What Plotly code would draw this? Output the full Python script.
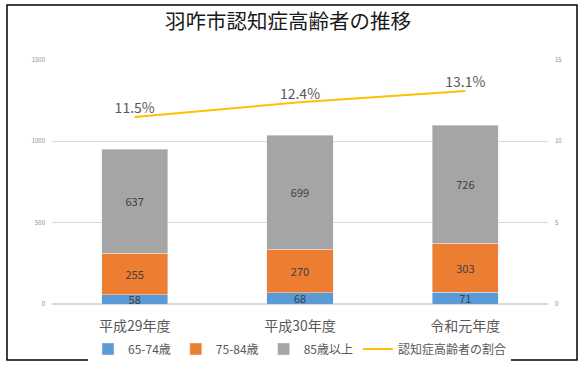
import plotly.graph_objects as go

categories = ["平成29年度", "平成30年度", "令和元年度"]
age_65_74 = [58, 68, 71]
age_75_84 = [255, 270, 303]
age_85_up = [637, 699, 726]
ratio = [11.5, 12.4, 13.1]
ratio_labels = ["11.5%", "12.4%", "13.1%"]

FONT = "Noto Sans CJK JP"
LABEL_COLOR = "#404040"

fig = go.Figure()
for name, vals, color in [
    ("65-74歳", age_65_74, "#5B9BD5"),
    ("75-84歳", age_75_84, "#ED7D31"),
    ("85歳以上", age_85_up, "#A5A5A5"),
]:
    fig.add_trace(go.Bar(
        x=categories, y=vals, name=name, marker_color=color,
        text=[str(v) for v in vals], textposition="inside",
        insidetextanchor="middle", constraintext="none", textangle=0,
        textfont=dict(size=11, color=LABEL_COLOR, family=FONT),
        cliponaxis=False,
    ))

fig.add_trace(go.Scatter(
    x=categories, y=ratio, name="認知症高齢者の割合", yaxis="y2",
    mode="lines+text", text=ratio_labels, textposition="top center",
    textfont=dict(size=14, color="#595959", family=FONT),
    line=dict(color="#FFC000", width=2),
    cliponaxis=False,
))

fig.update_layout(
    width=584, height=366,
    margin=dict(l=52, r=36, t=60, b=62, autoexpand=False),
    paper_bgcolor="white", plot_bgcolor="white",
    barmode="stack", bargap=0.6,
    font=dict(family=FONT, color="#595959"),
    title=dict(text="羽咋市認知症高齢者の推移", x=288 / 584, xanchor="center",
               xref="container", y=1 - 22 / 366, yanchor="middle", yref="container",
               automargin=False,
               font=dict(size=20.5, color="#1a1a1a", family=FONT)),
    xaxis=dict(showgrid=False, showline=False, ticks="outside", ticklen=9,
               tickcolor="rgba(0,0,0,0)", automargin=False,
               tickfont=dict(size=14, color="#595959", family=FONT)),
    yaxis=dict(range=[0, 1500], tickvals=[0, 500, 1000, 1500],
               ticktext=["0", "500", "1000", "1500"],
               gridcolor="#D9D9D9", zeroline=True, zerolinecolor="#D9D9D9",
               showline=False, ticks="", ticklabelstandoff=6, automargin=False,
               tickfont=dict(size=6, color="#8C8C8C")),
    yaxis2=dict(range=[0, 15], tickvals=[0, 5, 10, 15], overlaying="y",
                side="right", showgrid=False, zeroline=False, showline=False,
                ticks="", ticklabelstandoff=6, automargin=False,
                tickfont=dict(size=6, color="#8C8C8C")),
    legend=dict(orientation="h", x=(88 - 52) / 496, xanchor="left", y=-0.125,
                yanchor="top", font=dict(size=12, color="#595959", family=FONT),
                itemwidth=30, traceorder="normal"),
    shapes=[dict(type="rect", xref="paper", yref="paper",
                 x0=(7 - 52) / 496, x1=(577 - 52) / 496,
                 y0=(304 - 360) / 244, y1=(304 - 5) / 244,
                 line=dict(color="#000000", width=1.5), layer="below")],
)

fig.write_html("out.html", config={"displayModeBar": False},
               post_script="document.body.style.margin='0';document.body.style.overflow='hidden';")
